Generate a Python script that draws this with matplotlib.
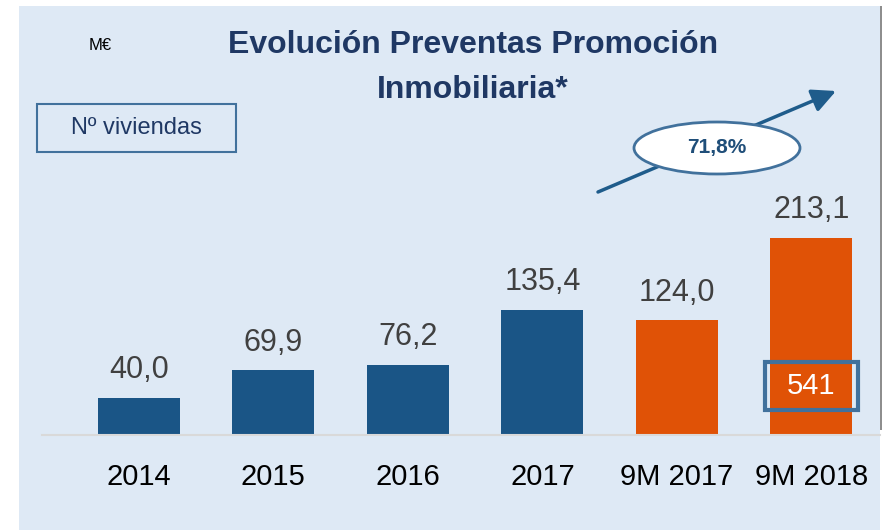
import matplotlib
matplotlib.use("Agg")
import matplotlib.pyplot as plt
from matplotlib.patches import Rectangle, Ellipse, FancyArrowPatch

categories = ["2014", "2015", "2016", "2017", "9M 2017", "9M 2018"]
values = [40.0, 69.9, 76.2, 135.4, 124.0, 213.1]
value_labels = ["40,0", "69,9", "76,2", "135,4", "124,0", "213,1"]
units_label = "541"
units_index = 5
growth_label = "71,8%"

W, H = 886, 530
fig = plt.figure(figsize=(W / 100, H / 100), dpi=100)
fig.patch.set_facecolor("white")

FONT = "Liberation Sans"
BG = "#DEE9F5"
BLUE = "#1A5586"
ORANGE = "#E05206"
EDGE = "#41719C"
NAVY = "#1F3864"

# background panel
fig.patches.append(Rectangle((19 / W, 0), (880 - 19) / W, (H - 6) / H,
                             transform=fig.transFigure, facecolor=BG,
                             edgecolor="none", zorder=-5))
fig.patches.append(Rectangle((880 / W, (H - 430) / H), 2 / W, (430 - 6) / H,
                             transform=fig.transFigure, facecolor="#8E8E8E",
                             edgecolor="none", zorder=-5))

px_per_unit = 0.925
base_y = 435
ax_left, ax_right, ax_top = 42, 880, 6
ax = fig.add_axes([ax_left / W, (H - base_y) / H, (ax_right - ax_left) / W,
                   (base_y - ax_top) / H])
ax.set_zorder(1)
ax.set_facecolor("none")
ax.set_xlim(-0.72, 5.51)
ax.set_ylim(0, (base_y - ax_top) / px_per_unit)
for s in ["top", "right", "left"]:
    ax.spines[s].set_visible(False)
ax.spines["bottom"].set_color("#D9D9D9")
ax.spines["bottom"].set_linewidth(1.5)
ax.set_yticks([])

colors = [ORANGE if c.startswith("9M") else BLUE for c in categories]
x = list(range(len(categories)))
ax.bar(x, values, width=0.61, color=colors, zorder=2)

for xi, v, lab in zip(x, values, value_labels):
    ax.annotate(lab, (xi, v), xytext=(0, 20), textcoords="offset points",
                ha="center", va="center", fontsize=22, color="#404040",
                family=FONT)

ax.set_xticks(x)
ax.set_xticklabels(categories, fontsize=21, family=FONT, color="black")
ax.tick_params(axis="x", length=0, pad=20)

# units box on last bar
ax.add_patch(Rectangle((units_index - 0.345, 27), 0.69, 52, facecolor="none",
                       edgecolor=EDGE, linewidth=3, zorder=3))
ax.text(units_index, 53, units_label, ha="center", va="center", fontsize=21,
        color="white", family=FONT, zorder=4)

# title and labels
fig.text(473 / W, 1 - 45 / H, "Evolución Preventas Promoción", ha="center",
         va="center", fontsize=23, fontweight="bold", color=NAVY, family=FONT)
fig.text(473 / W, 1 - 90 / H, "Inmobiliaria*", ha="center", va="center",
         fontsize=23, fontweight="bold", color=NAVY, family=FONT)
fig.text(100 / W, 1 - 45 / H, "M€", ha="center", va="center", fontsize=12,
         color="black", family=FONT)

# Nº viviendas box
fig.patches.append(Rectangle((37 / W, 1 - 152 / H), 199 / W, 48 / H,
                             transform=fig.transFigure, facecolor=BG,
                             edgecolor=EDGE, linewidth=1.5, zorder=2))
fig.text(136 / W, 1 - 128 / H, "Nº viviendas", ha="center", va="center",
         fontsize=17, color=NAVY, family=FONT, zorder=3)

# growth arrow
arrow = FancyArrowPatch((598 / W, 1 - 192 / H), (836 / W, 1 - 91 / H),
                        transform=fig.transFigure,
                        arrowstyle="-|>,head_length=0.65,head_width=0.32",
                        mutation_scale=22, color="#1F5C8B", linewidth=2.5,
                        shrinkA=0, shrinkB=0, zorder=3)
fig.patches.append(arrow)
fig.patches.append(Ellipse((717 / W, 1 - 148 / H), 166 / W, 52 / H,
                           transform=fig.transFigure, facecolor="white",
                           edgecolor=EDGE, linewidth=2, zorder=4))
fig.text(717 / W, 1 - 148 / H, growth_label, ha="center", va="center",
         fontsize=15, fontweight="bold", color="#1F4E79", family=FONT,
         zorder=5)

fig.savefig("out.png", dpi=100)
